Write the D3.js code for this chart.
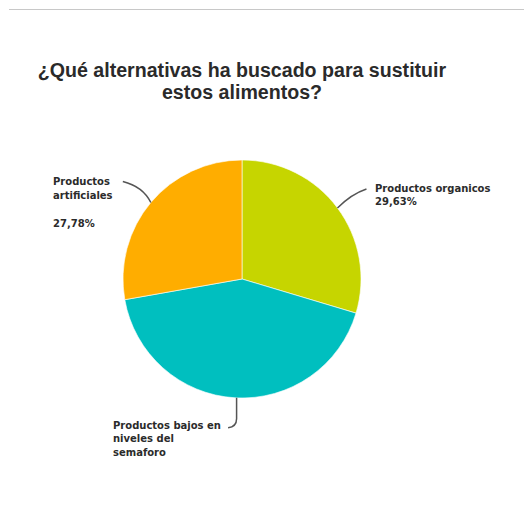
<!DOCTYPE html>
<html>
<head>
<meta charset="utf-8">
<script src="https://cdn.jsdelivr.net/npm/d3@7"></script>
<style>
  html, body { margin: 0; padding: 0; background: #fff; }
  svg { display: block; }
</style>
</head>
<body>
<svg id="chart" width="524" height="530"></svg>
<script>
// ---- data ----
const titleLines = ["¿Qué alternativas ha buscado para sustituir", "estos alimentos?"];
const categories = ["Productos organicos", "Productos bajos en niveles del semaforo", "Productos artificiales"];
const values = [29.63, 42.59, 27.78];
const labelLines = [["Productos organicos"], ["Productos bajos en", "niveles del", "semaforo"], ["Productos", "artificiales"]];
const showPercent = [true, false, true];
const colors = ["#c6d500", "#00bfbf", "#ffad00"];

// ---- layout ----
const svg = d3.select("#chart");
const cx = 242, cy = 279, R = 119;

// frame line at top
svg.append("line").attr("x1", 9).attr("x2", 524).attr("y1", 9.5).attr("y2", 9.5)
  .attr("stroke", "#c8c8c8").attr("stroke-width", 1);

// title
svg.append("g").selectAll("text").data(titleLines).join("text")
  .attr("x", 242).attr("y", (d, i) => 77 + i * 22)
  .attr("text-anchor", "middle")
  .attr("font-family", "'Liberation Sans', Arial, sans-serif")
  .attr("font-weight", "bold").attr("font-size", 19.6).attr("fill", "#2a2a2a")
  .text(d => d);

const pie = d3.pie().sort(null).value(d => d);
const arcs = pie(values);
const arc = d3.arc().innerRadius(0).outerRadius(R);

const g = svg.append("g").attr("transform", `translate(${cx},${cy})`);
g.selectAll("path").data(arcs).join("path")
  .attr("d", arc)
  .attr("fill", (d, i) => colors[i])
  .attr("stroke", "#ffffff").attr("stroke-width", 0.6);

// label layout (relative offsets from the arc's outer point at mid-angle)
const labelLayout = [
  { leader: (p) => `M${p[0]},${p[1]} Q${p[0]+14},${p[1]-14} ${p[0]+29},${p[1]-19}`, tx: 375, ty: 191.5, anchor: "start", pctGap: 13.5 },
  { leader: (p) => `M${p[0]+1.5},${p[1]} L${p[0]+1.5},${p[1]+21} Q${p[0]+1.5},${p[1]+29} ${p[0]-7},${p[1]+30}`, tx: 113, ty: 428.5, anchor: "start", pctGap: 14 },
  { leader: (p) => `M${p[0]},${p[1]} Q${p[0]-8},${p[1]-16} ${p[0]-28},${p[1]-21}`, tx: 53, ty: 185, anchor: "start", pctGap: 28.5 }
];

const outerPt = (d) => {
  const a = (d.startAngle + d.endAngle) / 2;
  return [cx + R * Math.sin(a), cy - R * Math.cos(a)];
};

const fmt = (v) => d3.format(".2f")(v).replace(".", ",") + "%";

arcs.forEach((d, i) => {
  const L = labelLayout[i];
  const p = outerPt(d);
  svg.append("path").attr("d", L.leader(p))
    .attr("fill", "none").attr("stroke", "#555").attr("stroke-width", 1.5);
  const lines = labelLines[i].slice();
  const t = svg.append("text")
    .attr("font-family", "'DejaVu Sans', Verdana, sans-serif")
    .attr("font-weight", "bold").attr("font-size", 10).attr("fill", "#2b2b2b")
    .attr("text-anchor", L.anchor);
  lines.forEach((ln, j) => {
    t.append("tspan").attr("x", L.tx).attr("y", L.ty + j * 13.5).text(ln);
  });
  if (showPercent[i]) {
    t.append("tspan").attr("x", L.tx)
      .attr("y", L.ty + (lines.length - 1) * 13.5 + L.pctGap)
      .text(fmt(values[i]));
  }
});
</script>
</body>
</html>
